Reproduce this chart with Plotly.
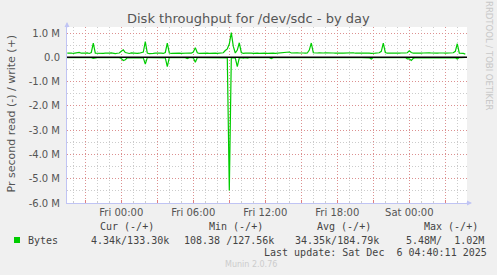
import plotly.graph_objects as go
from datetime import datetime, timedelta

# ---------------- data ----------------
start_time = datetime(2025, 12, 4, 19, 30)
step_minutes = 10

# write (+) in MB/s
write_M = [
    0.17, 0.19, 0.18, 0.16, 0.17, 0.18, 0.20, 0.17, 0.16, 0.17,
    0.18, 0.16, 0.20, 0.59, 0.17, 0.16, 0.18, 0.17, 0.16, 0.17,
    0.16, 0.17, 0.18, 0.16, 0.15, 0.17, 0.18, 0.25, 0.31, 0.20,
    0.17, 0.16, 0.18, 0.17, 0.15, 0.16, 0.17, 0.18, 0.22, 0.65,
    0.18, 0.15, 0.17, 0.16, 0.17, 0.18, 0.16, 0.17, 0.16, 0.20,
    0.59, 0.18, 0.16, 0.17, 0.16, 0.18, 0.17, 0.16, 0.17, 0.16,
    0.17, 0.18, 0.17, 0.22, 0.40, 0.19, 0.16, 0.17, 0.18, 0.16,
    0.17, 0.16, 0.17, 0.18, 0.17, 0.16, 0.18, 0.20, 0.19, 0.28,
    0.35, 0.55, 1.02, 0.45, 0.18, 0.30, 0.60, 0.20, 0.16, 0.17,
    0.18, 0.16, 0.17, 0.16, 0.18, 0.17, 0.16, 0.17, 0.18, 0.17,
    0.16, 0.17, 0.18, 0.17, 0.16, 0.17, 0.18, 0.17, 0.18, 0.20,
    0.19, 0.22, 0.18, 0.19, 0.20, 0.19, 0.18, 0.19, 0.18, 0.17,
    0.18, 0.30, 0.59, 0.19, 0.17, 0.18, 0.19, 0.17, 0.18, 0.19,
    0.18, 0.17, 0.19, 0.18, 0.17, 0.18, 0.19, 0.18, 0.17, 0.18,
    0.19, 0.17, 0.18, 0.19, 0.17, 0.18, 0.17, 0.19, 0.18, 0.17,
    0.18, 0.17, 0.16, 0.18, 0.17, 0.18, 0.19, 0.25, 0.59, 0.20,
    0.17, 0.18, 0.16, 0.17, 0.18, 0.16, 0.17, 0.18, 0.17, 0.18,
    0.19, 0.27, 0.20, 0.17, 0.18, 0.17, 0.17, 0.17, 0.18, 0.19,
    0.18, 0.19, 0.18, 0.17, 0.18, 0.17, 0.18, 0.19, 0.18, 0.17,
    0.18, 0.17, 0.18, 0.19, 0.25, 0.56, 0.17, 0.18, 0.16, 0.133,
]

# read (-) in MB/s (plotted below zero)
read_M = [
    0.010, 0.008, 0.012, 0.010, 0.009, 0.011, 0.010, 0.012, 0.009, 0.010,
    0.010, 0.012, 0.010, 0.040, 0.010, 0.009, 0.011, 0.010, 0.012, 0.010,
    0.010, 0.009, 0.011, 0.010, 0.012, 0.010, 0.010, 0.050, 0.130, 0.100,
    0.020, 0.010, 0.011, 0.010, 0.009, 0.012, 0.010, 0.011, 0.020, 0.280,
    0.010, 0.011, 0.009, 0.010, 0.012, 0.010, 0.011, 0.010, 0.009, 0.020,
    0.380, 0.012, 0.010, 0.011, 0.009, 0.010, 0.012, 0.010, 0.011, 0.010,
    0.050, 0.010, 0.011, 0.020, 0.200, 0.012, 0.010, 0.009, 0.011, 0.010,
    0.010, 0.012, 0.010, 0.011, 0.009, 0.010, 0.012, 0.010, 0.011, 0.010,
    0.020, 5.480, 0.020, 0.010, 0.030, 0.380, 0.020, 0.010, 0.030, 0.010,
    0.030, 0.010, 0.011, 0.009, 0.010, 0.012, 0.010, 0.011, 0.010, 0.009,
    0.010, 0.011, 0.050, 0.010, 0.012, 0.009, 0.010, 0.011, 0.010, 0.012,
    0.010, 0.009, 0.011, 0.010, 0.012, 0.010, 0.011, 0.009, 0.010, 0.012,
    0.010, 0.011, 0.010, 0.009, 0.012, 0.010, 0.011, 0.010, 0.009, 0.010,
    0.012, 0.010, 0.011, 0.010, 0.009, 0.010, 0.012, 0.010, 0.011, 0.010,
    0.009, 0.010, 0.012, 0.010, 0.011, 0.010, 0.009, 0.012, 0.010, 0.011,
    0.010, 0.020, 0.070, 0.010, 0.011, 0.009, 0.010, 0.012, 0.010, 0.011,
    0.010, 0.009, 0.012, 0.010, 0.011, 0.010, 0.009, 0.010, 0.012, 0.010,
    0.060, 0.060, 0.130, 0.040, 0.010, 0.011, 0.009, 0.010, 0.012, 0.010,
    0.011, 0.010, 0.009, 0.010, 0.012, 0.010, 0.011, 0.010, 0.009, 0.010,
    0.012, 0.010, 0.011, 0.010, 0.020, 0.070, 0.010, 0.011, 0.009, 0.00434,
]

y_tick_vals = [-6, -5, -4, -3, -2, -1, 0, 1]
y_tick_text = ["-6.0 M", "-5.0 M", "-4.0 M", "-3.0 M", "-2.0 M", "-1.0 M", "0.0", "1.0 M"]

x_tick_vals = ["2025-12-04 21:00", "2025-12-05 00:00", "2025-12-05 03:00", "2025-12-05 06:00",
               "2025-12-05 09:00", "2025-12-05 12:00", "2025-12-05 15:00", "2025-12-05 18:00",
               "2025-12-05 21:00", "2025-12-06 00:00", "2025-12-06 03:00"]
x_tick_text = ["", "Fri 00:00", "", "Fri 06:00", "", "Fri 12:00", "", "Fri 18:00", "", "Sat 00:00", ""]

title_text = "Disk throughput for /dev/sdc - by day"
y_title = "Pr second read (-) / write (+)"
series_name = "Bytes"
stat_headers = ["Cur (-/+)", "Min (-/+)", "Avg (-/+)", "Max (-/+)"]
stat_values = ["4.34k/133.30k", "108.38 /127.56k", "34.35k/184.79k", "5.48M/  1.02M"]
last_update = "Last update: Sat Dec  6 04:40:11 2025"
munin_version = "Munin 2.0.76"
watermark = "RRDTOOL / TOBI OETIKER"

# ---------------- figure ----------------
W, H = 497, 275
L, R, T, B = 67, 30, 27, 72
PW, PH = W - L - R, H - T - B

def px(x):
    return (x - L) / PW

def py(y):
    return (H - B - y) / PH

times = [start_time + timedelta(minutes=step_minutes * i) for i in range(len(write_M))]

fig = go.Figure()
green = "#00cc00"
fig.add_trace(go.Scatter(x=times, y=[-v for v in read_M], mode="lines",
                         line=dict(color=green, width=1.2), hoverinfo="skip"))
fig.add_trace(go.Scatter(x=times, y=write_M, mode="lines",
                         line=dict(color=green, width=1.2), hoverinfo="skip"))

major_grid = "#dc9090"
minor_grid = "#cccccc"
axis_col = "#c0c4f4"
txt = "#555555"

fig.update_layout(
    width=W, height=H,
    margin=dict(l=L, r=R, t=T, b=B, pad=0),
    paper_bgcolor="#f0f0f0", plot_bgcolor="#ffffff",
    showlegend=False,
    font=dict(family="DejaVu Sans", size=10, color=txt),
    xaxis=dict(
        type="date",
        range=["2025-12-04 19:28:30", "2025-12-06 04:48:30"],
        tickmode="array", tickvals=x_tick_vals, ticktext=x_tick_text,
        tickfont=dict(family="DejaVu Sans", size=10, color=txt),
        showgrid=True, gridcolor=major_grid, griddash="1px,2px", gridwidth=1,
        ticks="inside", ticklen=3, tickcolor="#e08080",
        minor=dict(dtick=3600000, tick0="2025-12-05 00:00", showgrid=True,
                   gridcolor=minor_grid, griddash="1px,2px", gridwidth=1,
                   ticks="inside", ticklen=2, tickcolor="#cccccc"),
        showline=True, linecolor=axis_col, linewidth=1,
        zeroline=False, fixedrange=True,
    ),
    yaxis=dict(
        range=[-6.0, 1.25],
        tickmode="array", tickvals=y_tick_vals, ticktext=y_tick_text,
        tickfont=dict(family="DejaVu Sans", size=10, color=txt),
        showgrid=True, gridcolor=major_grid, griddash="1px,2px", gridwidth=1,
        ticks="", ticklabelstandoff=4,
        minor=dict(dtick=0.5, tick0=0, showgrid=True, gridcolor=minor_grid,
                   griddash="1px,2px", gridwidth=1),
        showline=True, linecolor=axis_col, linewidth=1,
        zeroline=False, fixedrange=True,
    ),
)

# black zero rule
fig.add_shape(type="line", xref="paper", yref="y", x0=0, x1=1, y0=0, y1=0,
              line=dict(color="#000000", width=1.5), layer="above")

ann = []
# axis arrows
ann.append(dict(xref="paper", yref="paper", x=px(472), y=py(203), ax=-7, ay=0,
                showarrow=True, arrowhead=2, arrowsize=1, arrowwidth=1,
                arrowcolor=axis_col, text=""))
ann.append(dict(xref="paper", yref="paper", x=px(67), y=py(22), ax=0, ay=7,
                showarrow=True, arrowhead=2, arrowsize=1, arrowwidth=1,
                arrowcolor=axis_col, text=""))
# title
ann.append(dict(xref="paper", yref="paper", x=px(248.5), y=py(18), text=title_text,
                showarrow=False, xanchor="center", yanchor="middle",
                font=dict(family="DejaVu Sans", size=13, color=txt)))
# y title
ann.append(dict(xref="paper", yref="paper", x=px(11), y=py(113.5), text=y_title,
                showarrow=False, xanchor="center", yanchor="middle", textangle=-90,
                font=dict(family="DejaVu Sans", size=11, color=txt)))
# watermark
ann.append(dict(xref="paper", yref="paper", x=px(489), y=py(56), text=watermark,
                showarrow=False, xanchor="center", yanchor="middle", textangle=90,
                font=dict(family="DejaVu Sans", size=8.5, color="#c8c8c8")))

mono = "DejaVu Sans Mono"
def mtext(s):
    return s.replace(" ", "\u00a0")

head_x = [98.3, 206.7, 315, 422.3]
for hx, h in zip(head_x, stat_headers):
    ann.append(dict(xref="paper", yref="paper", x=px(hx), y=py(227), text=mtext(h),
                    showarrow=False, xanchor="left", yanchor="middle",
                    font=dict(family=mono, size=10, color="#444444")))
val_x = [89, 182.3, 293.3, 404.3]
for vx, v in zip(val_x, stat_values):
    ann.append(dict(xref="paper", yref="paper", x=px(vx), y=py(240), text=mtext(v),
                    showarrow=False, xanchor="left", yanchor="middle",
                    font=dict(family=mono, size=10, color="#444444")))
ann.append(dict(xref="paper", yref="paper", x=px(26.3), y=py(240), text=series_name,
                showarrow=False, xanchor="left", yanchor="middle",
                font=dict(family=mono, size=10, color="#444444")))
ann.append(dict(xref="paper", yref="paper", x=px(261.7), y=py(252), text=mtext(last_update),
                showarrow=False, xanchor="left", yanchor="middle",
                font=dict(family=mono, size=10, color="#444444")))
ann.append(dict(xref="paper", yref="paper", x=px(223.3), y=py(264), text=munin_version,
                showarrow=False, xanchor="left", yanchor="middle",
                font=dict(family="DejaVu Sans", size=8, color="#cccccc")))
fig.update_layout(annotations=ann)

# legend colour square
fig.add_shape(type="rect", xref="paper", yref="paper",
              x0=px(14), x1=px(20), y0=py(243), y1=py(237),
              fillcolor=green, line=dict(width=0))

fig.write_html("out.html")
